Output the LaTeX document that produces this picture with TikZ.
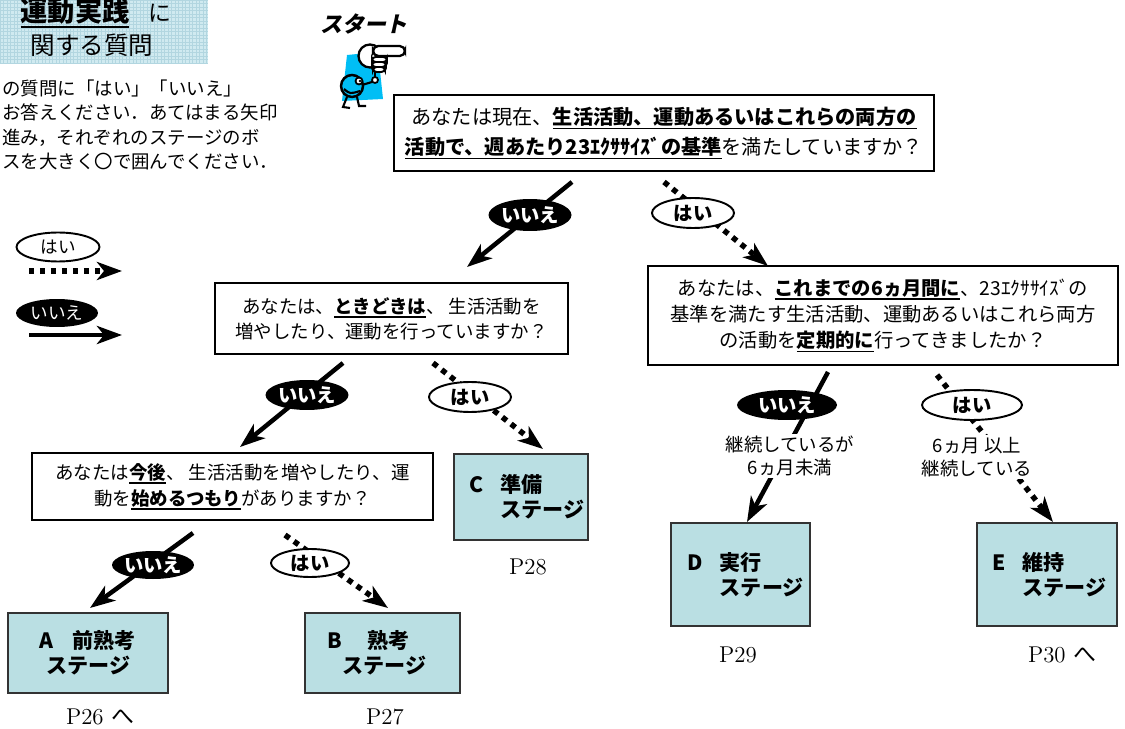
\documentclass[tikz,border=0pt]{standalone}
\usepackage{fontspec}
\usetikzlibrary{arrows.meta,shapes.geometric,positioning}

\newfontfamily\jp{Noto Sans CJK JP}
\newfontfamily\jpslant[FakeSlant=0.22]{Noto Sans CJK JP}

\definecolor{stagefill}{RGB}{186,223,227}
\definecolor{titlebg}{RGB}{208,234,240}
\definecolor{titlegrid}{RGB}{178,214,224}
\definecolor{mascotblue}{RGB}{0,190,245}

% bold text with a heavy underline
\newcommand{\kyocho}[1]{{\bfseries\setbox0=\hbox{#1}\rlap{\rule[-0.24em]{\wd0}{0.075em}}\box0}}

\tikzset{
  question/.style={draw, line width=0.9pt, fill=white, align=center, inner sep=0pt},
  stagebox/.style={draw=black!80, line width=0.8pt, fill=stagefill, inner sep=0pt},
  stagetext/.style={align=left, inner sep=0pt, font={\jp\bfseries\fontsize{12}{14}\selectfont}},
  page/.style={inner sep=0pt, font={\fontsize{13}{15}\selectfont}},
  noarrow/.style={line width=0.09cm, -{Stealth[length=0.5cm,width=0.36cm,inset=0.14cm]}},
  yesarrow/.style={line width=0.11cm, dash pattern=on 0.11cm off 0.11cm,
    -{Stealth[length=0.5cm,width=0.36cm,inset=0.14cm]}},
  yesoval/.style={ellipse, draw, line width=1.1pt, fill=white, inner sep=0pt,
    font={\jp\bfseries\fontsize{11}{13}\selectfont}},
  nooval/.style={ellipse, fill=black, text=white, inner sep=0pt,
    font={\jp\bfseries\fontsize{11}{13}\selectfont}},
  note/.style={fill=white, inner sep=1pt, align=center, font={\jp\fontsize{10.5}{13}\selectfont}}
}

\begin{document}
\begin{tikzpicture}[x=0.02cm, y=-0.02cm]
\useasboundingbox (0,0) rectangle (1125,729);

% title
\fill[titlebg] (0,0) rectangle (208,63);
\draw[titlegrid, line width=0.3pt, step=0.07cm] (0,0) grid (208,63);
\node[inner sep=0pt, font={\jp\fontsize{15.5}{17}\selectfont}] (title) at (75,13) {\kyocho{運動実践}};
\node[inner sep=0pt, font={\jp\fontsize{13}{15}\selectfont}] (titleni) at (160,13) {に};
\node[inner sep=0pt, font={\jp\fontsize{14}{16}\selectfont}] (subtitle) at (92,45) {関する質問};
\node[anchor=west, align=left, inner sep=0pt, font={\jp\fontsize{10.5}{14}\selectfont}] (howto) at (2,125)
  {の質問に「はい」「いいえ」\\お答えください．あてはまる矢印\\進み，それぞれのステージのボ\\スを大きく〇で囲んでください．};

% legend
\coordinate (legyes1) at (29,271);
\coordinate (legyes2) at (122,271);
\coordinate (legno1) at (29,335);
\coordinate (legno2) at (122,335);
\draw[yesarrow] (legyes1) -- (legyes2);
\draw[noarrow] (legno1) -- (legno2);
\node[yesoval, minimum width=1.66cm, minimum height=0.58cm, font={\jp\fontsize{10}{12}\selectfont}] (legyes) at (58,247) {はい};
\node[nooval, minimum width=1.64cm, minimum height=0.56cm, font={\jp\fontsize{10}{12}\selectfont}] (legno) at (57,313) {いいえ};

% start mascot
\node[inner sep=0pt, font={\jpslant\bfseries\fontsize{12.5}{14}\selectfont}] (start) at (364,24) {スタート};
\fill[mascotblue] (347,55) -- (378,52) -- (383,99) -- (342,101) -- cycle;
\draw[line width=1.2pt] (375,68) -- (375,77);
\draw[line width=1pt, fill=white] (375,80) circle (3);
\draw[line width=1.2pt] (372,82) -- (362,85);
\draw[line width=1.4pt, fill=mascotblue] (352,86) circle (11);
\draw[line width=1pt, fill=white] (359,81) circle (3.5);
\fill (360,81) circle (1.3);
\draw[line width=1.2pt] (344,89) .. controls (350,94) .. (360,91);
\draw[line width=1.2pt] (347,97) -- (343,107) -- (350,108);
\draw[line width=1.2pt] (357,97) -- (359,106) -- (366,106);
\draw[line width=1.3pt, fill=white] (370,56) circle (11.5);
\draw[line width=1.3pt, fill=white, rounded corners=3pt] (373,46) rectangle (405,56);
\draw[line width=1.1pt, fill=white, rounded corners=2pt] (372,57) rectangle (387,62);
\draw[line width=1.1pt, fill=white, rounded corners=2pt] (372,62) rectangle (386,67);
\draw[line width=1.1pt, fill=white, rounded corners=2pt] (373,67) rectangle (385,72);

% questions
\node[question, minimum width=10.8cm, minimum height=1.52cm, font={\jp\fontsize{11.5}{17}\selectfont}] (q1) at (664,133)
  {あなたは現在、\kyocho{生活活動、運動あるいはこれらの両方の}\\\kyocho{活動で、週あたり23ｴｸｻｻｲｽﾞの基準}を満たしていますか？};
\node[question, minimum width=7.06cm, minimum height=1.42cm, font={\jp\fontsize{10.5}{14.2}\selectfont}] (q2) at (391.5,318.5)
  {あなたは、\kyocho{ときどきは}、 生活活動を\\増やしたり、運動を行っていますか？};
\node[question, minimum width=8.02cm, minimum height=1.34cm, font={\jp\fontsize{10.5}{14.7}\selectfont}] (q3) at (232.5,486.5)
  {あなたは\kyocho{今後}、 生活活動を増やしたり、運\\動を\kyocho{始めるつもり}がありますか？};
\node[question, minimum width=9.4cm, minimum height=1.98cm, font={\jp\fontsize{11}{15}\selectfont}] (q4) at (883,315.5)
  {あなたは、\kyocho{これまでの6ヵ月間に}、23ｴｸｻｻｲｽﾞの\\基準を満たす生活活動、運動あるいはこれら両方\\の活動を\kyocho{定期的に}行ってきましたか？};

% stages
\node[stagebox, minimum width=3.2cm, minimum height=1.6cm] (stA) at (88,653) {};
\node[stagetext, right=0.64cm of stA.west] (stAtext) {A\hspace{0.9em}前熟考\\\hspace{0.33em}ステージ};
\node[stagebox, minimum width=3.1cm, minimum height=1.6cm] (stB) at (382.5,653) {};
\node[stagetext, right=0.46cm of stB.west] (stBtext) {B\hspace{1.2em}熟考\\\hspace{0.7em}ステージ};
\node[stagebox, minimum width=2.68cm, minimum height=1.72cm] (stC) at (521,497) {};
\node[stagetext, right=0.32cm of stC.west] (stCtext) {C\hspace{0.8em}準備\\\phantom{C}\hspace{0.8em}ステージ};
\node[stagebox, minimum width=2.78cm, minimum height=2.06cm] (stD) at (740.5,574.5) {};
\node[stagetext, right=0.34cm of stD.west] (stDtext) {D\hspace{0.8em}実行\\\phantom{D}\hspace{0.8em}ステージ};
\node[stagebox, minimum width=2.8cm, minimum height=2.06cm] (stE) at (1047,574.5) {};
\node[stagetext, right=0.32cm of stE.west] (stEtext) {E\hspace{0.8em}維持\\\phantom{E}\hspace{0.8em}ステージ};

\node[page] (pA) at (100,717) {P26 {\jp へ}};
\node[page] (pB) at (385,717) {P27};
\node[page] (pC) at (528,567) {P28};
\node[page] (pD) at (738,655) {P29};
\node[page] (pE) at (1062,655) {P30 {\jp へ}};

% answers
\coordinate (q1no) at (572,182);   \coordinate (q1noend) at (467,267);
\coordinate (q1yes) at (664,182);  \coordinate (q1yesend) at (768,266);
\coordinate (q2no) at (343,363);   \coordinate (q2noend) at (240,447);
\coordinate (q2yes) at (433,363);  \coordinate (q2yesend) at (543,449);
\coordinate (q3no) at (193,533);   \coordinate (q3noend) at (90,608);
\coordinate (q3yes) at (285,535);  \coordinate (q3yesend) at (388,608);
\coordinate (q4no) at (828,372);   \coordinate (q4noend) at (747,522);
\coordinate (q4yes) at (937,375);  \coordinate (q4yesend) at (1053,522);

\draw[noarrow] (q1no) -- (q1noend);
\draw[yesarrow] (q1yes) -- (q1yesend);
\draw[noarrow] (q2no) -- (q2noend);
\draw[yesarrow] (q2yes) -- (q2yesend);
\draw[noarrow] (q3no) -- (q3noend);
\draw[yesarrow] (q3yes) -- (q3yesend);
\draw[noarrow] (q4no) -- (q4noend);
\draw[yesarrow] (q4yes) -- (q4yesend);

\node[nooval, minimum width=1.66cm, minimum height=0.64cm] (q1nolabel) at (530,215) {いいえ};
\node[yesoval, minimum width=1.64cm, minimum height=0.6cm] (q1yeslabel) at (693,213) {はい};
\node[nooval, minimum width=1.66cm, minimum height=0.6cm] (q2nolabel) at (307,395) {いいえ};
\node[yesoval, minimum width=1.64cm, minimum height=0.6cm] (q2yeslabel) at (470,397) {はい};
\node[nooval, minimum width=1.62cm, minimum height=0.56cm] (q3nolabel) at (153,565) {いいえ};
\node[yesoval, minimum width=1.56cm, minimum height=0.56cm] (q3yeslabel) at (310,563) {はい};
\node[nooval, minimum width=2cm, minimum height=0.6cm] (q4nolabel) at (787,405) {いいえ};
\node[yesoval, minimum width=2cm, minimum height=0.6cm] (q4yeslabel) at (972,405) {はい};
\node[note] (q4nonote) at (790,456) {継続しているが\\6ヵ月未満};
\node[note] (q4yesnote) at (977,457) {6ヵ月 以上\\継続している};
\end{tikzpicture}
\end{document}
